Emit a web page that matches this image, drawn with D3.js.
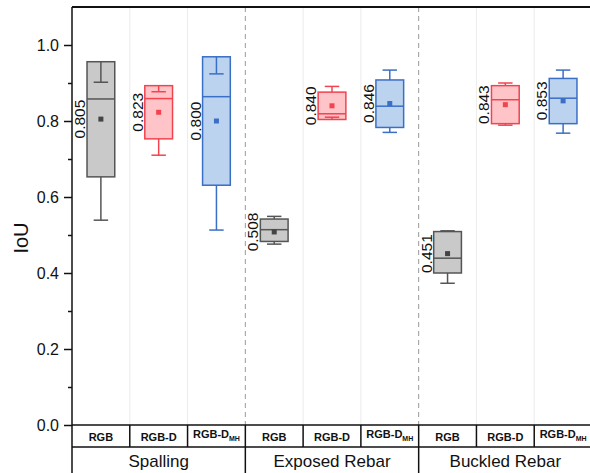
<!DOCTYPE html>
<html><head><meta charset="utf-8">
<script src="https://cdn.jsdelivr.net/npm/d3@7/dist/d3.min.js"></script>
<style>body{margin:0;background:#fff}svg{display:block}</style>
</head><body>
<script>
// ---- data ----
const groups = ["Spalling", "Exposed Rebar", "Buckled Rebar"];
const methods = ["RGB", "RGB-D", "RGB-D_MH"];
const q1 =          [0.653, 0.753, 0.631, 0.483, 0.804, 0.783, 0.400, 0.793, 0.793];
const q3 =          [0.956, 0.893, 0.969, 0.542, 0.876, 0.908, 0.509, 0.893, 0.912];
const median =      [0.858, 0.859, 0.864, 0.514, 0.819, 0.839, 0.439, 0.856, 0.860];
const whiskerLow =  [0.539, 0.710, 0.513, 0.476, 0.810, 0.770, 0.373, 0.789, 0.768];
const whiskerHigh = [0.902, 0.877, 0.924, 0.549, 0.891, 0.934, 0.511, 0.900, 0.934];
const mean =        [0.805, 0.823, 0.800, 0.508, 0.840, 0.846, 0.451, 0.843, 0.853];
const meanLabels =  ["0.805","0.823","0.800","0.508","0.840","0.846","0.451","0.843","0.853"];
const yTicks = [0, 0.2, 0.4, 0.6, 0.8, 1.0];
const yMinorTicks = [0.1, 0.3, 0.5, 0.7, 0.9];

(function () {
const W = 590, H = 473;
const mLeft = 72, mRight = 592, mTop = 7, mBottom = 425;
const strokeCol = {"RGB": "#555555", "RGB-D": "#f2434f", "RGB-D_MH": "#3a6fc6"};
const fillCol = {"RGB": "#c9c9c9", "RGB-D": "#ffc4c8", "RGB-D_MH": "#bcd3f0"};
const meanCol = {"RGB": "#444444", "RGB-D": "#f2434f", "RGB-D_MH": "#3a6fc6"};
const font = "'Liberation Sans', Arial, sans-serif";

const rows = [];
groups.forEach((g, gi) => methods.forEach((m, mi) => {
  const i = gi * 3 + mi;
  rows.push({key: g + "|" + m, group: g, method: m, q1: q1[i], q3: q3[i], median: median[i],
    lo: whiskerLow[i], hi: whiskerHigh[i], mean: mean[i], label: meanLabels[i]});
}));

const svg = d3.select("body").append("svg").attr("width", W).attr("height", H)
  .style("font-family", font);

const x = d3.scaleBand().domain(rows.map(d => d.key)).range([mLeft, mRight]).padding(0);
const xg = d3.scaleBand().domain(groups).range([mLeft, mRight]).padding(0);
const y = d3.scaleLinear().domain([0, 1.1]).range([mBottom, mTop]);
const bw = x.bandwidth();
const boxW = bw * 0.48, capW = bw * 0.125;

// light grid lines at category boundaries
const catBounds = rows.map(d => x(d.key)).filter((v, i) => i > 0 && i % 3 !== 0);
svg.append("g").selectAll("line").data(catBounds).join("line")
  .attr("x1", d => d).attr("x2", d => d).attr("y1", mTop).attr("y2", mBottom)
  .attr("stroke", "#ececec").attr("stroke-width", 1);
// dashed group separators
const grpBounds = groups.slice(1).map(g => xg(g));
svg.append("g").selectAll("line").data(grpBounds).join("line")
  .attr("x1", d => d).attr("x2", d => d).attr("y1", mTop).attr("y2", mBottom)
  .attr("stroke", "#9a9a9a").attr("stroke-width", 1).attr("stroke-dasharray", "5,4");

// boxes
const box = svg.append("g").selectAll("g").data(rows).join("g")
  .attr("transform", d => `translate(${x(d.key) + bw / 2},0)`);
box.append("rect").attr("x", -boxW / 2).attr("width", boxW)
  .attr("y", d => y(d.q3)).attr("height", d => y(d.q1) - y(d.q3))
  .attr("fill", d => fillCol[d.method]).attr("stroke", d => strokeCol[d.method]).attr("stroke-width", 1.5);
box.append("line").attr("x1", 0).attr("x2", 0)
  .attr("y1", d => y(d.q3)).attr("y2", d => y(d.hi))
  .attr("stroke", d => strokeCol[d.method]).attr("stroke-width", 1.5);
box.append("line").attr("x1", 0).attr("x2", 0)
  .attr("y1", d => y(d.q1)).attr("y2", d => y(d.lo))
  .attr("stroke", d => strokeCol[d.method]).attr("stroke-width", 1.5);
box.selectAll(".cap").data(d => [d.lo, d.hi].map(v => ({v, m: d.method}))).join("line")
  .attr("x1", -capW).attr("x2", capW).attr("y1", c => y(c.v)).attr("y2", c => y(c.v))
  .attr("stroke", c => strokeCol[c.m]).attr("stroke-width", 1.5);
box.append("line").attr("x1", -boxW / 2).attr("x2", boxW / 2)
  .attr("y1", d => y(d.median)).attr("y2", d => y(d.median))
  .attr("stroke", d => strokeCol[d.method]).attr("stroke-width", 1.5);
box.append("rect").attr("x", -2.5).attr("width", 5)
  .attr("y", d => y(d.mean) - 2.5).attr("height", 5)
  .attr("fill", d => meanCol[d.method]);
box.append("text")
  .attr("transform", d => `translate(${-boxW / 2 - 2},${y(d.mean)}) rotate(-90)`)
  .attr("text-anchor", "middle").attr("font-size", 15.5).attr("fill", "#111")
  .text(d => d.label);

// y axis
const yAxis = svg.append("g").attr("transform", `translate(${mLeft},0)`)
  .call(d3.axisLeft(y).tickValues(yTicks).tickSize(8).tickPadding(5).tickFormat(d3.format(".1f")));
yAxis.select(".domain").remove();
yAxis.selectAll("line").attr("stroke", "#111").attr("stroke-width", 1.5);
yAxis.selectAll("text").attr("font-size", 16).attr("font-family", font).attr("fill", "#111");
const yMinor = svg.append("g").attr("transform", `translate(${mLeft},0)`)
  .call(d3.axisLeft(y).tickValues(yMinorTicks).tickSize(4).tickFormat(""));
yMinor.select(".domain").remove();
yMinor.selectAll("line").attr("stroke", "#111").attr("stroke-width", 1.5);

svg.append("text").attr("transform", `translate(28,238) rotate(-90)`)
  .attr("text-anchor", "middle").attr("font-size", 20).attr("fill", "#111").text("IoU");

// frame lines
svg.append("line").attr("x1", mLeft).attr("x2", mRight).attr("y1", mTop).attr("y2", mTop)
  .attr("stroke", "#111").attr("stroke-width", 2);
svg.append("line").attr("x1", mLeft).attr("x2", mLeft).attr("y1", mTop).attr("y2", H)
  .attr("stroke", "#111").attr("stroke-width", 1.5);
svg.append("line").attr("x1", mLeft).attr("x2", mRight).attr("y1", mBottom).attr("y2", mBottom)
  .attr("stroke", "#111").attr("stroke-width", 1.5);

// table
const row1 = 447;
svg.append("line").attr("x1", mLeft).attr("x2", mRight).attr("y1", row1).attr("y2", row1)
  .attr("stroke", "#111").attr("stroke-width", 1.5);
svg.append("g").selectAll("line").data(catBounds).join("line")
  .attr("x1", d => d).attr("x2", d => d).attr("y1", mBottom).attr("y2", row1)
  .attr("stroke", "#111").attr("stroke-width", 1.5);
svg.append("g").selectAll("line").data(grpBounds).join("line")
  .attr("x1", d => d).attr("x2", d => d).attr("y1", mBottom).attr("y2", H)
  .attr("stroke", "#111").attr("stroke-width", 1.5);

const lab = svg.append("g").selectAll("text").data(rows).join("text")
  .attr("x", d => x(d.key) + bw / 2).attr("y", d => d.method === "RGB-D_MH" ? 438 : 440.5)
  .attr("text-anchor", "middle").attr("font-size", 11).attr("font-weight", "bold").attr("fill", "#111");
lab.each(function(d) {
  const t = d3.select(this);
  if (d.method === "RGB-D_MH") {
    t.append("tspan").text("RGB-D");
    t.append("tspan").attr("font-size", 7).attr("dy", 3).text("MH");
  } else t.text(d.method);
});
svg.append("g").selectAll("text").data(groups).join("text")
  .attr("x", d => xg(d) + xg.bandwidth() / 2).attr("y", 467)
  .attr("text-anchor", "middle").attr("font-size", 17).attr("fill", "#111").text(d => d);
})();
</script>
</body></html>
